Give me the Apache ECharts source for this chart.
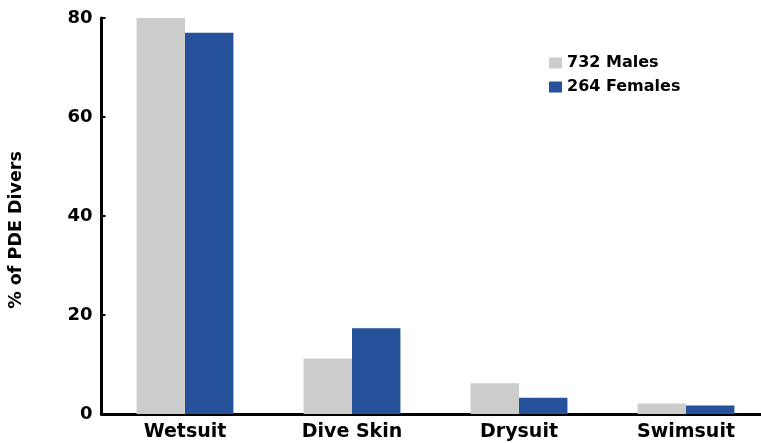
<!DOCTYPE html>
<html>
<head>
<meta charset="utf-8">
<script src="https://cdn.jsdelivr.net/npm/echarts@6/dist/echarts.min.js"></script>
<style>
html,body{margin:0;padding:0;background:#fff;}
#chart{width:761px;height:443px;}
</style>
</head>
<body>
<div id="chart"></div>
<script>
const categories = ['Wetsuit', 'Dive Skin', 'Drysuit', 'Swimsuit'];
const males = [80, 11.2, 6.2, 2.1];
const females = [77, 17.3, 3.3, 1.7];
const seriesNames = ['732 Males', '264 Females'];
const yTicks = [0, 20, 40, 60, 80];
const yTitle = '% of PDE Divers';

const font = 'DejaVu Sans';
const chart = echarts.init(document.getElementById('chart'), null, {renderer: 'canvas'});
chart.setOption({
  animation: false,
  backgroundColor: '#ffffff',
  legend: {
    orient: 'vertical',
    left: 549,
    top: 55,
    padding: 0,
    itemWidth: 13,
    itemHeight: 11,
    itemGap: 8,
    icon: 'rect',
    textStyle: {fontFamily: font, fontWeight: 'bold', fontSize: 16, color: '#000', padding: [0,0,0,0]},
    data: seriesNames
  },
  graphic: [{
    type: 'text',
    x: 16, y: 230,
    rotation: Math.PI / 2,
    style: {text: yTitle, fontFamily: font, fontWeight: 'bold', fontSize: 17.5, fill: '#000', align: 'center', verticalAlign: 'middle'}
  }],
  grid: {left: 101.5, top: 18, bottom: 29, width: 668, containLabel: false, outerBoundsMode: 'none'},
  xAxis: {
    type: 'category',
    data: categories,
    axisLine: {lineStyle: {color: '#000', width: 3}},
    axisTick: {show: false},
    axisLabel: {fontFamily: font, fontWeight: 'bold', fontSize: 19, color: '#000', margin: 9, interval: 0}
  },
  yAxis: {
    type: 'value',
    min: yTicks[0],
    max: yTicks[yTicks.length - 1],
    interval: 20,
    axisLine: {show: true, lineStyle: {color: '#000', width: 3}},
    axisTick: {show: true, inside: true, length: 4, lineStyle: {color: '#000', width: 2}},
    splitLine: {show: false},
    axisLabel: {fontFamily: font, fontWeight: 'bold', fontSize: 18, color: '#000', margin: 9,
      formatter: v => yTicks.includes(v) ? String(v) : ''}
  },
  series: [
    {name: seriesNames[0], type: 'bar', data: males, barGap: '0%', barCategoryGap: '42%', itemStyle: {color: '#CCCCCC'}},
    {name: seriesNames[1], type: 'bar', data: females, barGap: '0%', barCategoryGap: '42%', itemStyle: {color: '#26519B'}}
  ]
});
</script>
</body>
</html>
